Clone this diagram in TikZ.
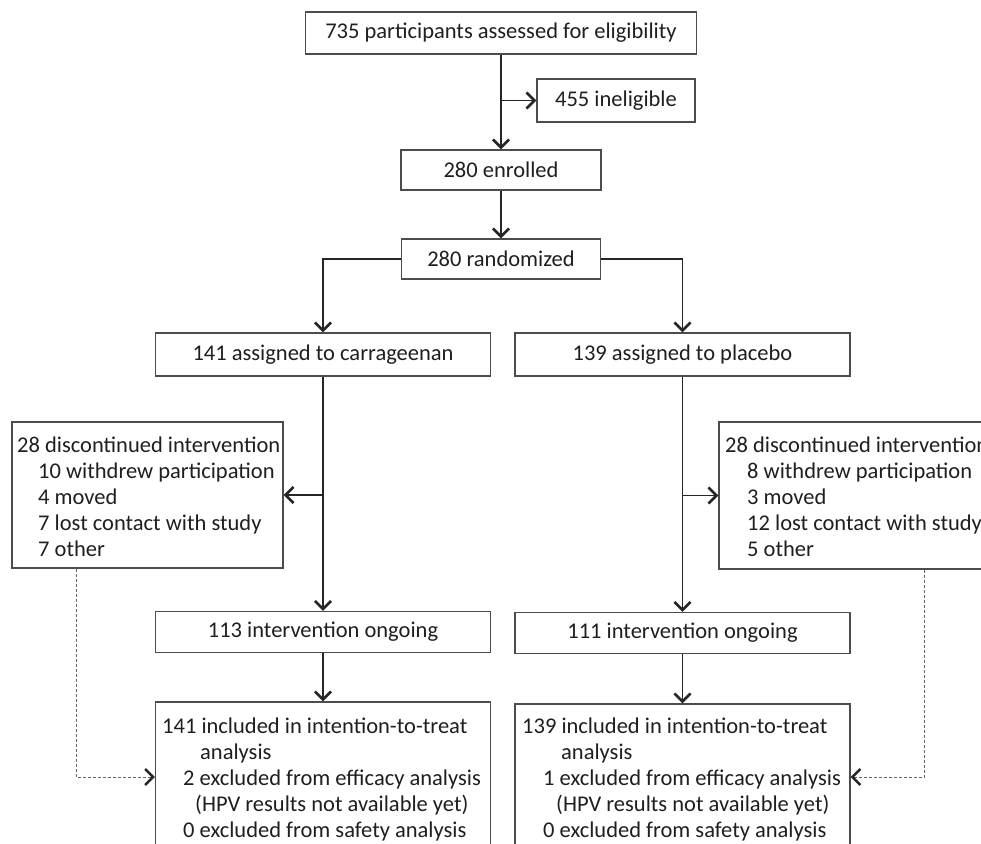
\documentclass[tikz,border=0pt]{standalone}
\usepackage{fontspec}
\setmainfont{Carlito}
\usetikzlibrary{arrows.meta,calc}
\begin{document}
\begin{tikzpicture}[x=1pt,y=-1pt,
  box/.style={draw=black!70, line width=1.4pt, inner sep=0pt, text=black!88, font=\fontsize{22.5}{25}\selectfont},
  txt/.style={anchor=base west, inner sep=0pt, text=black!88, font=\fontsize{22.5}{25}\selectfont},
  arr/.style={draw=black!85, line width=1.3pt, -{Straight Barb[length=8pt,width=16pt,line width=2.6pt]}},
  dasharr/.style={draw=black!60, line width=1pt, dash pattern=on 3pt off 2pt, -{Straight Barb[length=8pt,width=16pt,line width=2.4pt,color=black!85]}}]
\useasboundingbox (0,0) rectangle (981,843);
\clip (0,0) rectangle (981,843);
\fill[white] (0,0) rectangle (981,843);

\node[box, minimum width=391pt, minimum height=42pt] (elig) at (501,33) {735 participants assessed for eligibility};
\node[box, minimum width=158pt, minimum height=43pt] (inel) at (616,100.5) {455 ineligible};
\node[box, minimum width=200pt, minimum height=40pt] (enr) at (501,170) {280 enrolled};
\node[box, minimum width=199pt, minimum height=40pt] (rand) at (501,259) {280 randomized};
\node[box, minimum width=335pt, minimum height=43pt] (carr) at (323,354.5) {141 assigned to carrageenan};
\node[box, minimum width=335pt, minimum height=43pt] (plac) at (682.5,354.5) {139 assigned to placebo};
\node[box, minimum width=271pt, minimum height=146pt] (disc1) at (147.5,495) {};
\node[box, minimum width=281pt, minimum height=147pt] (disc2) at (859.5,495.5) {};
\node[box, minimum width=335pt, minimum height=41pt] (ong1) at (323,632) {113 intervention ongoing};
\node[box, minimum width=335pt, minimum height=41pt] (ong2) at (682.5,633) {111 intervention ongoing};
\node[box, minimum width=335pt, minimum height=168pt] (itt1) at (323,786) {};
\node[box, minimum width=335pt, minimum height=166pt] (itt2) at (682.5,787) {};

% discontinued texts
\node[txt] (d1a) at (17,452) {28 discontinued intervention};
\node[txt] (d1b) at (38,478) {10 withdrew participation};
\node[txt] (d1c) at (38,504) {4 moved};
\node[txt] (d1d) at (38,530) {7 lost contact with study};
\node[txt] (d1e) at (38,556) {7 other};
\node[txt] (d2a) at (725,452) {28 discontinued intervention};
\node[txt] (d2b) at (747,478) {8 withdrew participation};
\node[txt] (d2c) at (747,504) {3 moved};
\node[txt] (d2d) at (747,530) {12 lost contact with study};
\node[txt] (d2e) at (747,556) {5 other};

% analysis texts
\node[txt] (i1a) at (162,733) {141 included in intention-to-treat};
\node[txt] (i1b) at (200,759) {analysis};
\node[txt] (i1c) at (183,785) {2 excluded from efficacy analysis};
\node[txt] (i1d) at (195,811) {(HPV results not available yet)};
\node[txt] (i1e) at (183,837) {0 excluded from safety analysis};
\node[txt] (i2a) at (522,733) {139 included in intention-to-treat};
\node[txt] (i2b) at (561,759) {analysis};
\node[txt] (i2c) at (543,785) {1 excluded from efficacy analysis};
\node[txt] (i2d) at (556,811) {(HPV results not available yet)};
\node[txt] (i2e) at (543,837) {0 excluded from safety analysis};

% connectors
\draw[arr] (elig.south) -- (enr.north);
\draw[arr] (elig.south |- inel.west) -- (inel.west);
\draw[arr] (enr.south) -- (rand.north);
\draw[arr] (rand.west) -| (carr.north);
\draw[arr] (rand.east) -| (plac.north);
\draw[arr] (carr.south) -- (ong1.north);
\draw[arr] (carr.south |- disc1.east) -- (disc1.east);
\draw[arr] (plac.south) -- (ong2.north);
\draw[arr] (plac.south |- disc2.west) -- (disc2.west);
\draw[arr] (ong1.south) -- (itt1.north);
\draw[arr] (ong2.south) -- (itt2.north);

\coordinate (s1) at ($(disc1.south west)+(65,0)$);
\coordinate (e1) at (itt1.north west |- 0,777);
\coordinate (s2) at ($(disc2.south west)+(206,0)$);
\coordinate (e2) at (itt2.north east |- 0,777);
\draw[dasharr] (s1) |- (e1);
\draw[dasharr] (s2) |- (e2);
\end{tikzpicture}
\end{document}
